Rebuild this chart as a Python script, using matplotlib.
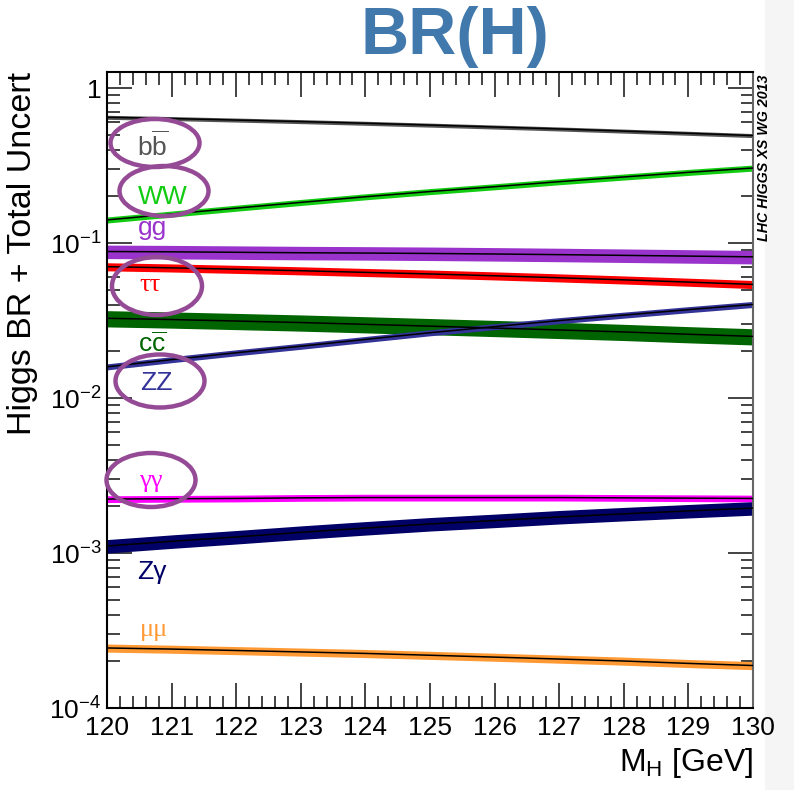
# Higgs branching ratios with total uncertainty bands, 120-130 GeV
import matplotlib.pyplot as plt
import numpy as np
from matplotlib.patches import Ellipse, Rectangle
from matplotlib.ticker import FixedLocator, FixedFormatter, MultipleLocator, LogLocator, NullFormatter

plt.rcParams['font.family'] = ['Liberation Sans', 'DejaVu Sans']
plt.rcParams['mathtext.fontset'] = 'custom'
plt.rcParams['mathtext.rm'] = 'Liberation Sans'
plt.rcParams['mathtext.it'] = 'Liberation Sans:italic'

mh = [120, 121, 122, 123, 124, 125, 126, 127, 128, 129, 130]

br_bb = [0.648, 0.636, 0.622, 0.608, 0.593, 0.577, 0.561, 0.545, 0.528, 0.511, 0.494]
br_ww = [0.141, 0.154, 0.168, 0.183, 0.199, 0.215, 0.231, 0.249, 0.267, 0.286, 0.305]
br_gg = [0.0882, 0.0878, 0.0872, 0.0866, 0.0862, 0.0857, 0.0850, 0.0842, 0.0833, 0.0824, 0.0815]
br_tautau = [0.0704, 0.0692, 0.0678, 0.0663, 0.0647, 0.0632, 0.0615, 0.0597, 0.0579, 0.0560, 0.0541]
br_cc = [0.0327, 0.0321, 0.0314, 0.0307, 0.0299, 0.0291, 0.0283, 0.0275, 0.0267, 0.0258, 0.0250]
br_zz = [0.0159, 0.0177, 0.0196, 0.0216, 0.0239, 0.0264, 0.0289, 0.0316, 0.0343, 0.0372, 0.0402]
br_gamgam = [0.00223, 0.00224, 0.00225, 0.00227, 0.00228, 0.00228, 0.00228, 0.00228, 0.00227, 0.00226, 0.00225]
br_zgam = [0.00111, 0.00119, 0.00127, 0.00136, 0.00145, 0.00154, 0.00162, 0.00171, 0.00179, 0.00187, 0.00195]
br_mumu = [0.000244, 0.000240, 0.000235, 0.000230, 0.000225, 0.000219, 0.000213, 0.000207, 0.000201, 0.000194, 0.000188]

# total relative uncertainty per channel
unc = {'bb': 0.03, 'WW': 0.045, 'gg': 0.10, 'tautau': 0.06, 'cc': 0.12,
       'ZZ': 0.045, 'gamgam': 0.05, 'Zgam': 0.10, 'mumu': 0.06}

channels = [
    ('bb', br_bb, '#555555', r'$\mathrm{b\overline{b}}$', 120.70, 0.42),
    ('WW', br_ww, '#11cc11', 'WW', 120.87, 0.198),
    ('gg', br_gg, '#9933cc', 'gg', 120.71, 0.125),
    ('tautau', br_tautau, '#ff0000', 'ττ', 120.67, 0.054),
    ('cc', br_cc, '#006400', r'$\mathrm{c\overline{c}}$', 120.70, 0.022),
    ('ZZ', br_zz, '#333399', 'ZZ', 120.76, 0.0125),
    ('gamgam', br_gamgam, '#ff00ff', 'γγ', 120.67, 0.0029),
    ('Zgam', br_zgam, '#000066', 'Zγ', 120.70, 0.00075),
    ('mumu', br_mumu, '#ff9933', 'μμ', 120.72, 0.00032),
]

fig = plt.figure(figsize=(7.94, 7.90), dpi=100)
fig.add_artist(Rectangle((765 / 794, 0), 1, 1, transform=fig.transFigure,
                         facecolor='#f5f5f5', edgecolor='none', zorder=-5))
ax = fig.add_axes([107 / 794, 82 / 790, 646 / 794, 636 / 790])

x = np.array(mh)
for key, br, color, label, lx, ly in channels:
    y = np.array(br)
    ax.fill_between(x, y * (1 - unc[key]), y * (1 + unc[key]), color=color, lw=0, zorder=2)
    ax.plot(x, y, color='black', lw=1.1, zorder=3)
    serif = key in ('tautau', 'gamgam', 'mumu')
    ax.text(lx, ly, label, color=color, fontsize=19, ha='center', va='center',
            family=['Liberation Serif', 'DejaVu Serif'] if serif else None)

ax.set_yscale('log')
ax.set_xlim(120, 130)
ax.set_ylim(1e-4, 1.27)

ax.xaxis.set_major_locator(MultipleLocator(1))
ax.xaxis.set_minor_locator(MultipleLocator(0.2))
ax.yaxis.set_major_locator(FixedLocator([1e-4, 1e-3, 1e-2, 1e-1, 1]))
ax.yaxis.set_major_formatter(FixedFormatter([r'$10^{-4}$', r'$10^{-3}$', r'$10^{-2}$', r'$10^{-1}$', '1']))
ax.yaxis.set_minor_locator(LogLocator(base=10, subs=np.arange(2, 10), numticks=20))
ax.yaxis.set_minor_formatter(NullFormatter())

ax.tick_params(which='both', direction='in', top=True, right=True, labelsize=19, width=1.2, color='#222222')
ax.tick_params(which='major', length=18)
ax.tick_params(which='minor', length=9)
ax.tick_params(axis='x', pad=6)
ax.tick_params(axis='y', pad=4)
for s in ax.spines.values():
    s.set_linewidth(1.5)
ax.spines['right'].set_color('#666666')

ax.set_ylabel('Higgs BR + Total Uncert', fontsize=24.5, loc='top', labelpad=8)
ax.set_xlabel(r'M$_{\rm H}$ [GeV]', fontsize=23, loc='right', labelpad=4)

# highlight rings around selected channels (pixel centres, width, height)
rings = [(155, 143, 89, 48), (164, 191, 89, 50), (157, 286, 90, 58),
         (160, 381, 89, 53), (151, 480, 89, 54)]
for cx, cy, w, h in rings:
    fig.add_artist(Ellipse((cx / 100, (790 - cy) / 100), w / 100, h / 100,
                           transform=fig.dpi_scale_trans, fill=False,
                           edgecolor='#954a95', lw=3.2, zorder=10))

fig.text(455 / 794, 1 - 6 / 790, 'BR(H)', fontsize=48, fontweight='bold',
         color='#4279ad', ha='center', va='top')
fig.text(764 / 794, 1 - 75 / 790, 'LHC HIGGS XS WG 2013', fontsize=10.3,
         fontweight='bold', fontstyle='italic', rotation=90, ha='center', va='top')

fig.savefig('out.png', dpi=100)
